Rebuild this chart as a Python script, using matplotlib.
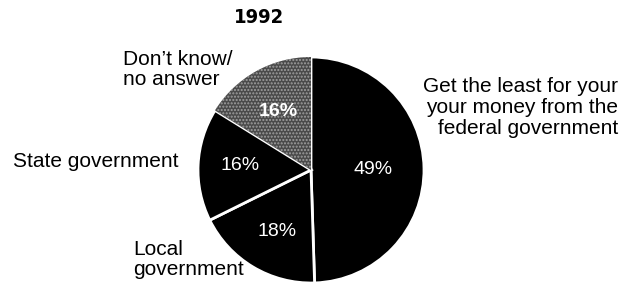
import matplotlib.pyplot as plt
from matplotlib import font_manager

plt.rcParams['font.family'] = ['Liberation Sans', 'DejaVu Sans']

# shares, in the order drawn clockwise from 12 o'clock
categories = ['Get the least for your\nyour money from the\nfederal government',
              'Local\ngovernment', 'State government', 'Don\u2019t know/\nno answer']
values = [49, 18, 16, 16]
pct_labels = ['49%', '18%', '16%', '16%']
colors = ['black', 'black', 'black', '#4a4a4a']

# a condensed bold face for the title if one is installed
cond = [f for f in font_manager.fontManager.ttflist
        if 'condensed' in str(f.stretch) or 'Narrow' in f.name or 'Condensed' in f.name]
title_kw = dict(family=[cond[0].name], fontstretch=cond[0].stretch, fontsize=14.5) if cond \
    else dict(fontsize=13)

fig = plt.figure(figsize=(6.33, 2.85), dpi=100)
ax = fig.add_axes([0, 0, 1, 1])

H = 285  # flip image rows to y-up
cx, cy, r = 311, H - 170, 113
wedges, _ = ax.pie(values, colors=colors, startangle=90, counterclock=False,
                   center=(cx, cy), radius=r, frame=True,
                   wedgeprops=dict(edgecolor='white', linewidth=2))
wedges[3].set_hatch('.....')
wedges[3].set_edgecolor('#a0a0a0')
wedges[3].set_linewidth(0)

ax.set_xlim(0, 633)
ax.set_ylim(0, H)
ax.set_aspect('equal')
ax.axis('off')

# percent labels
pct_pos = [(373, 169), (277, 231), (240, 165), (278, 111)]
for i, (x, y) in enumerate(pct_pos):
    ax.text(x, H - y, pct_labels[i], color='white', fontsize=14, ha='center', va='center',
            fontweight='bold' if i == 3 else 'normal')

# category labels
ax.text(618, H - 77, categories[0], fontsize=15, ha='right', va='top', linespacing=1.12)
ax.text(133, H - 240, categories[1], fontsize=15, ha='left', va='top', linespacing=1.05)
ax.text(13, H - 152, categories[2], fontsize=15, ha='left', va='top')
ax.text(123, H - 50, categories[3], fontsize=15, ha='left', va='top', linespacing=1.08)

ax.text(259, H - 8, '1992', fontweight='bold', ha='center', va='top', **title_kw)

fig.savefig('out.png', dpi=100)
